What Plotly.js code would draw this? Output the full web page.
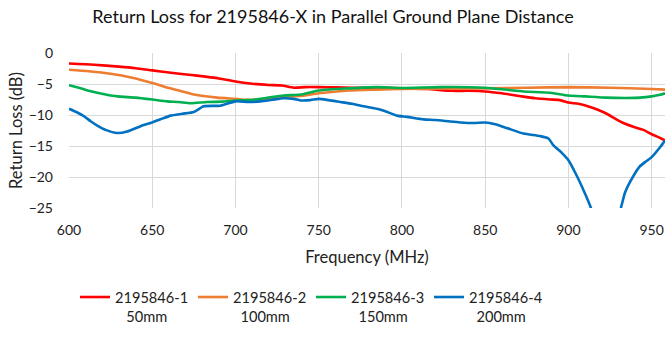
<!DOCTYPE html>
<html><head><meta charset="utf-8">
<script src="https://cdn.plot.ly/plotly-3.0.1.min.js"></script>
<style>html,body{margin:0;padding:0;background:#fff;overflow:hidden}</style>
</head><body><div id="chart" style="width:666px;height:339px"></div>
<script>
// Data
const seriesNames = ["2195846-1", "2195846-2", "2195846-3", "2195846-4"];
const seriesSub = ["50mm", "100mm", "150mm", "200mm"];
const colors = ["#FF0000", "#ED7D31", "#00B050", "#0070C0"];

const freq1 = [600, 615, 630, 640, 650, 660, 675, 690, 700, 710, 720, 728, 735, 742, 750, 760, 770, 785, 800, 815, 830, 840, 850, 860, 872, 880, 889, 895, 900, 906, 913, 918, 923, 928, 933, 939, 945, 950, 955, 958];
const rl1   = [-1.7, -1.9, -2.2, -2.45, -2.8, -3.15, -3.6, -4.1, -4.6, -4.95, -5.15, -5.25, -5.6, -5.5, -5.5, -5.55, -5.6, -5.6, -5.7, -5.8, -6.1, -6.1, -6.2, -6.5, -7.0, -7.3, -7.5, -7.6, -8.0, -8.2, -8.7, -9.2, -9.8, -10.6, -11.3, -11.9, -12.4, -13.1, -13.7, -14.1];

const freq2 = [600, 612, 625, 638, 650, 660, 668, 675, 689, 700, 707, 715, 728, 740, 750, 768, 785, 800, 830, 850, 875, 900, 925, 950, 958];
const rl2   = [-2.7, -2.95, -3.35, -4.0, -4.85, -5.65, -6.2, -6.7, -7.2, -7.4, -7.55, -7.45, -7.1, -6.9, -6.5, -6.05, -5.9, -5.8, -5.7, -5.7, -5.6, -5.5, -5.6, -5.8, -5.9];

const freq3 = [600, 607, 615, 622, 629, 640, 650, 659, 666, 673, 683, 692, 700, 708, 715, 722, 729, 739, 750, 760, 768, 785, 800, 823, 850, 862, 873, 889, 900, 910, 923, 935, 943, 950, 955, 958];
const rl3   = [-5.2, -5.7, -6.3, -6.7, -7.0, -7.2, -7.5, -7.8, -7.9, -8.1, -7.9, -7.85, -7.65, -7.6, -7.4, -7.1, -6.85, -6.7, -6.05, -5.8, -5.7, -5.5, -5.65, -5.5, -5.6, -5.9, -6.2, -6.4, -6.85, -7.0, -7.2, -7.25, -7.2, -7.0, -6.75, -6.5];

const freq4 = [600, 605, 609, 613, 617, 622, 629, 635, 643, 650, 655, 661, 668, 675, 681, 691, 700, 708, 715, 722, 729, 735, 739, 745, 750, 756, 763, 770, 777, 785, 790, 797, 803, 813, 820, 829, 835, 843, 850, 856, 863, 873, 883, 888, 891, 896, 900, 905, 910, 913.5, 917, 922, 927, 931.5, 934, 937, 942.5, 946, 950, 955, 958];
const rl4   = [-9.0, -9.6, -10.2, -11.0, -11.7, -12.4, -12.9, -12.65, -11.8, -11.2, -10.7, -10.1, -9.8, -9.5, -8.6, -8.5, -7.8, -7.9, -7.8, -7.55, -7.3, -7.4, -7.65, -7.6, -7.4, -7.6, -7.9, -8.2, -8.6, -9.0, -9.4, -10.1, -10.3, -10.7, -10.8, -11.05, -11.2, -11.3, -11.2, -11.5, -12.1, -13.0, -13.4, -13.8, -14.9, -16.1, -17.3, -19.8, -22.7, -25.0, -29, -35, -29, -25.0, -22.5, -20.8, -18.4, -17.6, -16.8, -15.2, -14.1];

const xs = [freq1, freq2, freq3, freq4];
const ys = [rl1, rl2, rl3, rl4];

const NB = "\u00a0";
const traces = seriesNames.map((n, i) => ({
  x: xs[i], y: ys[i], type: "scatter", mode: "lines",
  name: n + "<br>" + NB.repeat(i === 0 ? 3 : 2) + seriesSub[i],
  line: { color: colors[i], width: 2.6, shape: "spline", smoothing: 0.6 },
  hoverinfo: "skip"
}));

const font = "Lato, 'Open Sans', sans-serif";
const layout = {
  width: 666, height: 339,
  margin: { l: 69, r: 1, t: 52.5, b: 131 },
  paper_bgcolor: "#fff", plot_bgcolor: "#fff",
  font: { family: font, color: "#222", size: 14 },
  title: { text: "Return Loss for 2195846-X in Parallel Ground Plane Distance",
           font: { family: font, size: 18, color: "#111" },
           x: 0.5, xanchor: "center", xref: "container", y: 0.95, yanchor: "middle" },
  xaxis: {
    range: [600, 958], tick0: 600, dtick: 50,
    showgrid: true, gridcolor: "#d9d9d9", gridwidth: 1,
    zeroline: false, showline: false, ticks: "",
    ticklabelstandoff: 12,
    tickfont: { size: 14, family: font, color: "#222" },
    automargin: true,
    title: { text: "Frequency (MHz)", font: { size: 16.5, family: font, color: "#222" }, standoff: 14 }
  },
  yaxis: {
    range: [-25, 0], tick0: 0, dtick: 5,
    showgrid: true, gridcolor: "#d9d9d9", gridwidth: 1,
    zeroline: false, showline: false, ticks: "",
    ticklabelstandoff: 15,
    tickfont: { size: 14, family: font, color: "#222" },
    automargin: true,
    title: { text: "Return Loss (dB)", font: { size: 16.5, family: font, color: "#222" }, standoff: 1 }
  },
  showlegend: true,
  legend: {
    orientation: "h", xref: "container", yref: "container",
    x: 0.1126, xanchor: "left", y: 0.171, yanchor: "top",
    entrywidth: 73, entrywidthmode: "pixels", valign: "top",
    font: { size: 14.6, family: font, color: "#222" },
    bgcolor: "rgba(0,0,0,0)"
  }
};

Plotly.newPlot("chart", traces, layout, { staticPlot: true, displayModeBar: false });
</script></body></html>
